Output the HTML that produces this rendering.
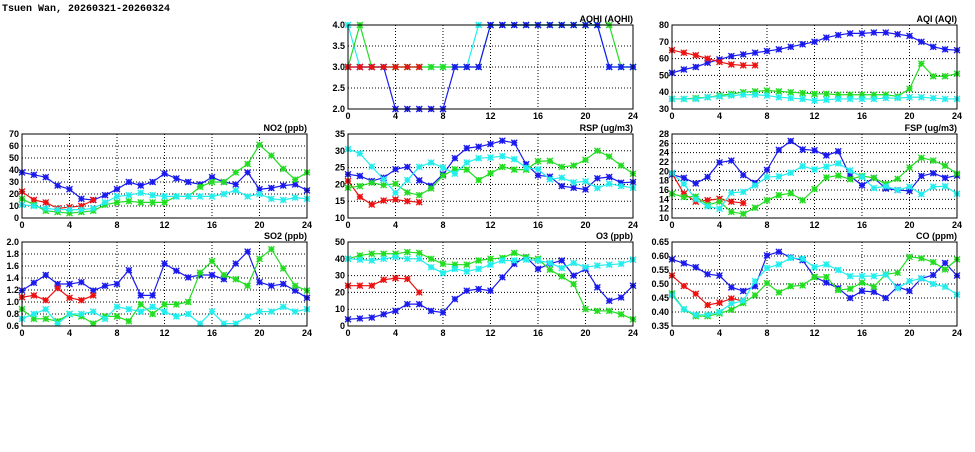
<!DOCTYPE html>
<html><head><meta charset="utf-8"><style>
body{margin:0;background:#fff;width:975px;height:447px;overflow:hidden}
svg text{font-family:"Liberation Sans",sans-serif;font-weight:bold;font-size:9px;fill:#000}
</style></head><body>
<svg id="s" width="975" height="447" xmlns="http://www.w3.org/2000/svg">
<text x="2" y="11" style="font-family:'Liberation Mono',monospace;font-size:10px">Tsuen Wan, 20260321-20260324</text>
</svg>
<script>
const C={b:"#1a1aee",r:"#ee1111",g:"#22dd22",c:"#22eeee"};
const P=[
{t:"AQHI (AQHI)",x:348,y:25,min:2,max:4,step:0.5,dec:1,s:[
 ["c",[4,3,3,3,3,3,3,3,3,3,3,4,4,4,4,4,4,4,4,4,4,4,3,3,3]],
 ["g",[3,4,3,3,3,3,3,3,3,3,3,3,4,4,4,4,4,4,4,4,4,4,4,3,3]],
 ["b",[3,3,3,3,2,2,2,2,2,3,3,3,4,4,4,4,4,4,4,4,4,4,3,3,3]],
 ["r",[3,3,3,3,3,3,3]]]},
{t:"AQI (AQI)",x:672,y:25,min:30,max:80,step:10,dec:0,s:[
 ["b",[51.5,53.5,55,57.5,59.5,61.5,62.5,63.5,64.5,65.5,67,68.5,70,72.5,74,75,75,75.5,75.5,74.5,73.5,70,67,65.5,65]],
 ["r",[65,63.5,62,60,58,56.5,56,56]],
 ["g",[36,36,36.5,37,38,39,40,40.5,41,40.5,40,39.5,39,39,38.5,38.5,38.5,38.5,38.5,37.5,42,57,49.5,49.5,51]],
 ["c",[36,36,36,37,37.5,38,38.5,38.5,38,37,36.5,36,35,35.5,36,36,36,36,36.5,36.5,37,37,36.5,36,36]]]},
{t:"NO2 (ppb)",x:22,y:134,min:0,max:70,step:10,dec:0,s:[
 ["b",[38,36,34,27,24,16,15,19,24,30,27,30,37,33,30,28,34,30,28,38,24,25,27,28,23]],
 ["r",[22,15,13,8,9,10,15]],
 ["g",[16,11,6,5,4,5,6,11,13,14,13,13,13,18,18,26,30,30,38,45,61,52,41,32,38]],
 ["c",[11,10,8,7,7,7,8,13,18,19,21,19,18,18,18,18,18,20,23,18,20,16,15,17,16]]]},
{t:"RSP (ug/m3)",x:348,y:134,min:10,max:35,step:5,dec:0,s:[
 ["b",[23,22.5,21,22,24.5,25.2,21.2,19.6,23,27.8,30.8,31.2,32,33,32.4,26,22.7,22.3,19.5,19,18.5,21.8,22.2,20.5,20.7]],
 ["r",[21,16.3,14,15.2,15.5,15,14.7]],
 ["g",[19,19.5,20.5,19.8,20.2,17.6,16.8,18.8,22.6,24.5,24.4,21.3,23.3,25.2,24.4,24.4,26.9,27,25.2,25.6,27.3,30,28.3,25.6,23.2]],
 ["c",[30.5,29.2,25.3,21.5,17.5,21.3,25.2,26.5,25,23.2,26.5,27.8,28,28.4,27.5,25,24.5,21.5,22,20.6,20.9,18.9,20.2,19.5,19]]]},
{t:"FSP (ug/m3)",x:672,y:134,min:10,max:28,step:2,dec:0,s:[
 ["b",[19.3,18.6,17.4,18.8,21.9,22.3,19.2,17.5,20.3,24.6,26.5,24.7,24.5,23.4,24.3,19,17,18.6,16.3,16,15.8,19,19.6,18.6,19.1]],
 ["r",[19.6,15.2,13.5,13.8,14.1,13.5,13.2]],
 ["g",[15.2,14.5,14.6,12.8,13.5,11.3,10.9,12.2,13.8,14.9,15.3,13.8,16.2,18.7,19.1,18.3,19,18.6,17.3,18.4,20.8,22.9,22.3,21.2,19.5]],
 ["c",[19.6,17.3,14,12.5,12,15.4,15.6,17,18.8,18.9,19.7,21.1,20.4,21,21.7,20.2,18.8,16.4,16.8,16,16.7,15.1,16.7,16.8,15.2]]]},
{t:"SO2 (ppb)",x:22,y:242,min:0.6,max:2.0,step:0.2,dec:1,s:[
 ["b",[1.19,1.32,1.45,1.30,1.30,1.33,1.19,1.27,1.30,1.53,1.11,1.11,1.64,1.52,1.41,1.45,1.45,1.38,1.64,1.84,1.33,1.27,1.30,1.19,1.07]],
 ["r",[1.08,1.11,1.03,1.23,1.07,1.03,1.11]],
 ["g",[0.88,0.72,0.72,0.68,0.80,0.76,0.64,0.76,0.76,0.68,0.96,0.80,0.96,0.96,1.00,1.49,1.68,1.45,1.38,1.27,1.72,1.88,1.56,1.27,1.19]],
 ["c",[0.72,0.8,0.88,0.64,0.80,0.80,0.84,0.72,0.92,0.88,0.84,0.92,0.84,0.76,0.80,0.64,0.84,0.64,0.64,0.76,0.84,0.84,0.92,0.84,0.88]]]},
{t:"O3 (ppb)",x:348,y:242,min:0,max:50,step:10,dec:0,s:[
 ["b",[4,4.5,5,7,9,13,13,9,8,16,21,22,21,29,37,41,34,37,39,30,34,23,15,17,24]],
 ["r",[24,24,24,27.5,28.5,28,20]],
 ["g",[40,42,43,43,43,44,43.5,40,37,36.5,36.5,39,40,40.5,43.5,41,40,33.5,29.5,25,10,9,9,7,4]],
 ["c",[40,39.5,39,40,41,40,40,35,31.5,34,32.5,34,36.5,39,39,39.5,39,37.5,34.5,37.5,35,36,36.5,37,39.5]]]},
{t:"CO (ppm)",x:672,y:242,min:0.35,max:0.65,step:0.05,dec:2,s:[
 ["b",[.588,.574,.56,.535,.53,.488,.475,.492,.602,.615,.595,.585,.525,.505,.485,.45,.475,.472,.45,.49,.475,.52,.532,.575,.53]],
 ["r",[.53,.493,.465,.425,.433,.448,.44]],
 ["g",[.466,.41,.385,.385,.395,.408,.432,.46,.503,.47,.492,.495,.525,.525,.478,.483,.505,.49,.535,.54,.597,.592,.578,.552,.588]],
 ["c",[.46,.41,.39,.39,.40,.43,.44,.51,.557,.57,.593,.59,.56,.57,.55,.528,.528,.528,.533,.485,.51,.52,.5,.49,.462]]]}
];
const W=285,H=84;let o="";
for(const p of P){
 const X=h=>p.x+h*W/24,Y=v=>p.y+H-(v-p.min)/(p.max-p.min)*H;
 const n=Math.round((p.max-p.min)/p.step);
 for(let i=0;i<=n;i++){const v=p.min+i*p.step,y=Y(v);
  if(i>0&&i<n)o+=`<line x1="${p.x}" x2="${p.x+W}" y1="${y}" y2="${y}" stroke="#000" stroke-width="1" stroke-dasharray="1,2"/>`;
  o+=`<text x="${p.x-3}" y="${y+3}" text-anchor="end">${v.toFixed(p.dec)}</text>`;}
 for(let h=0;h<=24;h+=4){const x=X(h);
  if(h>0&&h<24)o+=`<line x1="${x}" x2="${x}" y1="${p.y}" y2="${p.y+H}" stroke="#000" stroke-width="1" stroke-dasharray="1,2"/>`;
  o+=`<text x="${x}" y="${p.y+H+10}" text-anchor="middle">${h}</text>`;}
 o+=`<text x="${p.x+W}" y="${p.y-3}" text-anchor="end">${p.t}</text>`;
 for(const [c,d] of p.s){const col=C[c];
  o+=`<polyline fill="none" stroke="${col}" stroke-width="1.2" points="${d.map((v,i)=>X(i)+","+Y(v)).join(" ")}"/>`;
  for(let i=0;i<d.length;i++){const x=X(i),y=Y(d[i]);
   o+=`<path d="M${x-3},${y-3}L${x+3},${y+3}M${x-3},${y+3}L${x+3},${y-3}M${x-3},${y}H${x+3}M${x},${y-3}V${y+3}" stroke="${col}" stroke-width="1.3"/><rect x="${x-2}" y="${y-2}" width="4" height="4" fill="none" stroke="${col}" stroke-width="0.8" opacity="0.6"/>`;}}
 o+=`<rect x="${p.x}" y="${p.y}" width="${W}" height="${H}" fill="none" stroke="#000" stroke-width="1"/>`;
}
document.getElementById("s").insertAdjacentHTML("beforeend",o);
</script>
</body></html>
